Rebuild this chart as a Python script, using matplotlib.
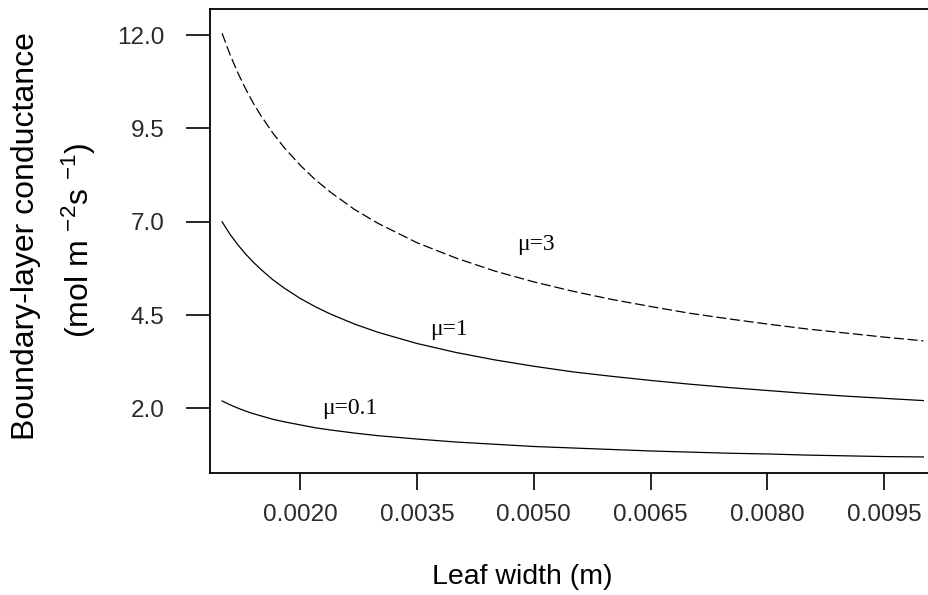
import matplotlib
matplotlib.use("Agg")
import matplotlib.pyplot as plt

# leaf width (m) and conductance
width = [0.001, 0.0011, 0.0012, 0.0013, 0.0014, 0.0015, 0.00165, 0.0018,
         0.002, 0.0022, 0.0024, 0.0027, 0.003, 0.0035, 0.004, 0.0045, 0.005,
         0.0055, 0.006, 0.0065, 0.007, 0.0075, 0.008, 0.0085, 0.009, 0.0095,
         0.010]
g_mu3 = [12.05, 11.49, 11.00, 10.57, 10.18, 9.84, 9.38, 8.98, 8.52, 8.12,
         7.78, 7.33, 6.96, 6.44, 6.03, 5.68, 5.39, 5.14, 4.92, 4.73, 4.55,
         4.40, 4.26, 4.13, 4.02, 3.91, 3.81]
g_mu1 = [7.00, 6.67, 6.39, 6.14, 5.92, 5.72, 5.45, 5.22, 4.95, 4.72, 4.52,
         4.26, 4.04, 3.74, 3.50, 3.30, 3.13, 2.98, 2.86, 2.75, 2.65, 2.56,
         2.48, 2.40, 2.33, 2.27, 2.21]
g_mu01 = [2.20, 2.10, 2.01, 1.93, 1.86, 1.80, 1.71, 1.64, 1.56, 1.48, 1.42,
          1.34, 1.27, 1.18, 1.10, 1.04, 0.98, 0.94, 0.90, 0.86, 0.83, 0.80,
          0.78, 0.75, 0.73, 0.71, 0.70]

xticks = [0.0020, 0.0035, 0.0050, 0.0065, 0.0080, 0.0095]
yticks = [2.0, 4.5, 7.0, 9.5, 12.0]

plt.rcParams['font.family'] = ['Liberation Sans', 'DejaVu Sans']
plt.rcParams['mathtext.default'] = 'regular'

W, H = 929, 595
fig = plt.figure(figsize=(W / 100, H / 100), dpi=100)
# right side of the box runs off the picture
ax = fig.add_axes([210 / W, (H - 473) / H, 725 / W, 464 / H])

ax.plot(width, g_mu3, color='black', lw=0.9, linestyle=(0, (8, 3)))
ax.plot(width, g_mu1, color='black', lw=0.9)
ax.plot(width, g_mu01, color='black', lw=0.9)

ax.set_xlim(0.000845, 0.01015)
ax.set_ylim(0.27, 12.7)
ax.set_xticks(xticks)
ax.set_xticklabels(['%.4f' % t for t in xticks])
ax.set_yticks(yticks)
ax.set_yticklabels(['%.1f' % t for t in yticks])
ax.tick_params(axis='y', direction='out', length=17, width=1.2, pad=16,
               labelsize=17.5, labelcolor='#2a2a2a')
ax.tick_params(axis='x', direction='out', length=12, width=1.2, pad=10,
               labelsize=17.5, labelcolor='#2a2a2a')
for s in ax.spines.values():
    s.set_linewidth(1.3)

serif = ['Liberation Serif', 'DejaVu Serif']
ax.text(0.00479, 6.24, 'μ=3', family=serif, fontsize=17, va='baseline')
ax.text(0.00367, 3.97, 'μ=1', family=serif, fontsize=17, va='baseline')
ax.text(0.00228, 1.84, 'μ=0.1', family=serif, fontsize=17, va='baseline')

fig.text(522 / W, 1 - 577 / H, 'Leaf width (m)', ha='center', va='center',
         fontsize=20.5)
fig.text(26 / W, 1 - 236 / H, 'Boundary-layer conductance', ha='center',
         va='center', rotation=90, fontsize=23)
fig.text(79 / W, 1 - 240 / H, '(mol m $^{-2}$s $^{-1}$)', ha='center',
         va='center', rotation=90, fontsize=23)

fig.savefig('out.png', dpi=100)
